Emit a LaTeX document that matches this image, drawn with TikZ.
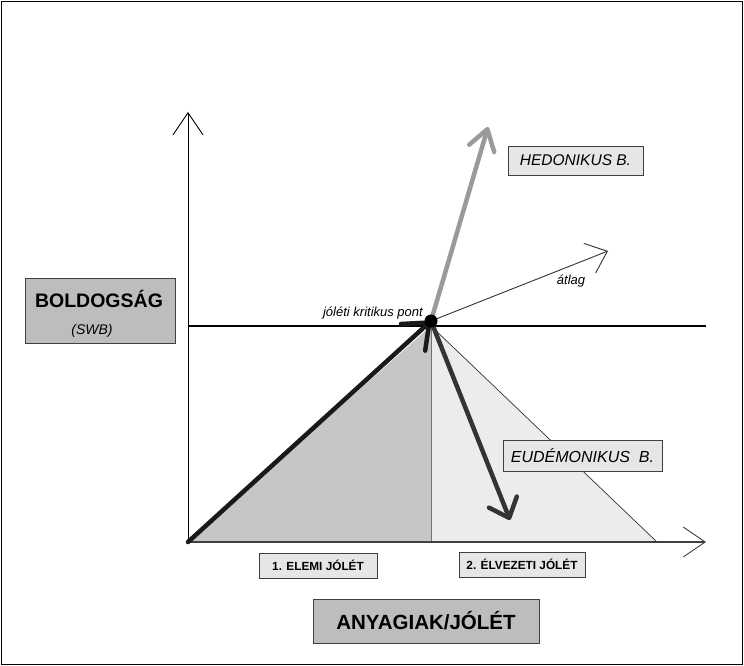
\documentclass[tikz,border=0pt]{standalone}
\usepackage{fontspec}
\setmainfont{Liberation Sans}
\usetikzlibrary{arrows.meta}
\definecolor{darkfill}{HTML}{C6C6C6}
\definecolor{lightfill}{HTML}{ECECEC}
\definecolor{boxfill}{HTML}{E6E6E6}
\definecolor{bigbox}{HTML}{BDBDBD}
\definecolor{hedgray}{HTML}{9A9A9A}
\definecolor{eudgray}{HTML}{333333}
\tikzset{
  smallbox/.style={draw=black!75, fill=boxfill, line width=0.9pt, inner sep=0pt, anchor=center},
  bigboxst/.style={draw=black!75, fill=bigbox, line width=0.9pt, inner sep=0pt, anchor=center},
  axisline/.style={line width=0.9pt, -{Straight Barb[length=22pt,width=30pt,line width=0.9pt]}},
  thickarrow/.style={line width=4.5pt, line cap=round, -{Straight Barb[length=16pt,width=28pt,round]}},
  labeltxt/.style={font=\fontsize{13}{15}\selectfont\itshape, inner sep=0pt}
}
\begin{document}
\begin{tikzpicture}[x=1pt,y=-1pt]
\useasboundingbox (0,0) rectangle (744,666);
\draw[line width=1.5pt] (1.5,1.5) rectangle (742.5,664.5);
% key points
\coordinate (O) at (188,542);
\coordinate (P) at (431,321);
\coordinate (Pb) at (431,542);
\coordinate (R) at (657,542);
\coordinate (Ytip) at (188,112);
\coordinate (Xtip) at (706,542);
\coordinate (Hl) at (188,326);
\coordinate (Hr) at (706,326);
\coordinate (Htip) at (488,127);
\coordinate (Etip) at (510,520);
\coordinate (Atip) at (608,251);
% triangles
\fill[darkfill] (O) -- (431,326) -- (Pb) -- cycle;
\fill[lightfill] (431,326) -- (R) -- (Pb) -- cycle;
\draw[black!80, line width=0.7pt] (431,326) -- (R);
\draw[black!55, line width=0.7pt] (431,326) -- (Pb);
% axes
\draw[axisline] (O) -- (Ytip);
\draw[axisline, black!75, line width=1.6pt] (O) -- (Xtip);
\draw[line width=1.5pt] (Hl) -- (Hr);
% diagonal
\draw[black!80, line width=0.9pt, -{Straight Barb[length=19pt,width=32pt,line width=0.9pt]}] (P) -- (Atip);
% thick arrows
\draw[thickarrow, black!90, -{Straight Barb[length=22pt,width=36pt,round]}] (O) -- (P);
\draw[thickarrow, hedgray, -{Straight Barb[length=20pt,width=26pt,round]}] (P) -- (Htip);
\draw[thickarrow, eudgray, -{Straight Barb[length=17pt,width=30pt,round]}] (P) -- (Etip);
\fill (P) circle (6.5pt);
% labels
\node[labeltxt, anchor=base east] (crit) at (423,316) {jóléti kritikus pont};
\node[labeltxt] (atlag) at (571,281) {átlag};
\node[smallbox, minimum width=135pt, minimum height=29pt, font=\fontsize{15.5}{17}\selectfont\itshape] (hed) at (575.5,160.5) {HEDONIKUS B.};
\node[smallbox, minimum width=159pt, minimum height=31pt, font=\fontsize{16}{17}\selectfont\itshape] (eud) at (582.5,455.5) {EUDÉMONIKUS\ \ B.};
\node[smallbox, minimum width=118pt, minimum height=25pt, font=\fontsize{11.8}{14}\selectfont\bfseries] (elemi) at (318,565.5) {1. ELEMI JÓLÉT};
\node[smallbox, minimum width=126pt, minimum height=25pt, font=\fontsize{11.8}{14}\selectfont\bfseries] (elv) at (522,564.5) {2. ÉLVEZETI JÓLÉT};
\node[bigboxst, minimum width=226pt, minimum height=44pt, font=\fontsize{20.5}{24}\selectfont\bfseries] (anyag) at (426,621) {ANYAGIAK/JÓLÉT};
\node[bigboxst, minimum width=150pt, minimum height=65pt] (bold) at (100,310.5) {};
\node[font=\fontsize{19.5}{22}\selectfont\bfseries, inner sep=0pt] (boldt) at (99,299) {BOLDOGSÁG};
\node[font=\fontsize{14}{16}\selectfont\itshape, inner sep=0pt] (swb) at (92,331) {(SWB)};
\end{tikzpicture}
\end{document}
